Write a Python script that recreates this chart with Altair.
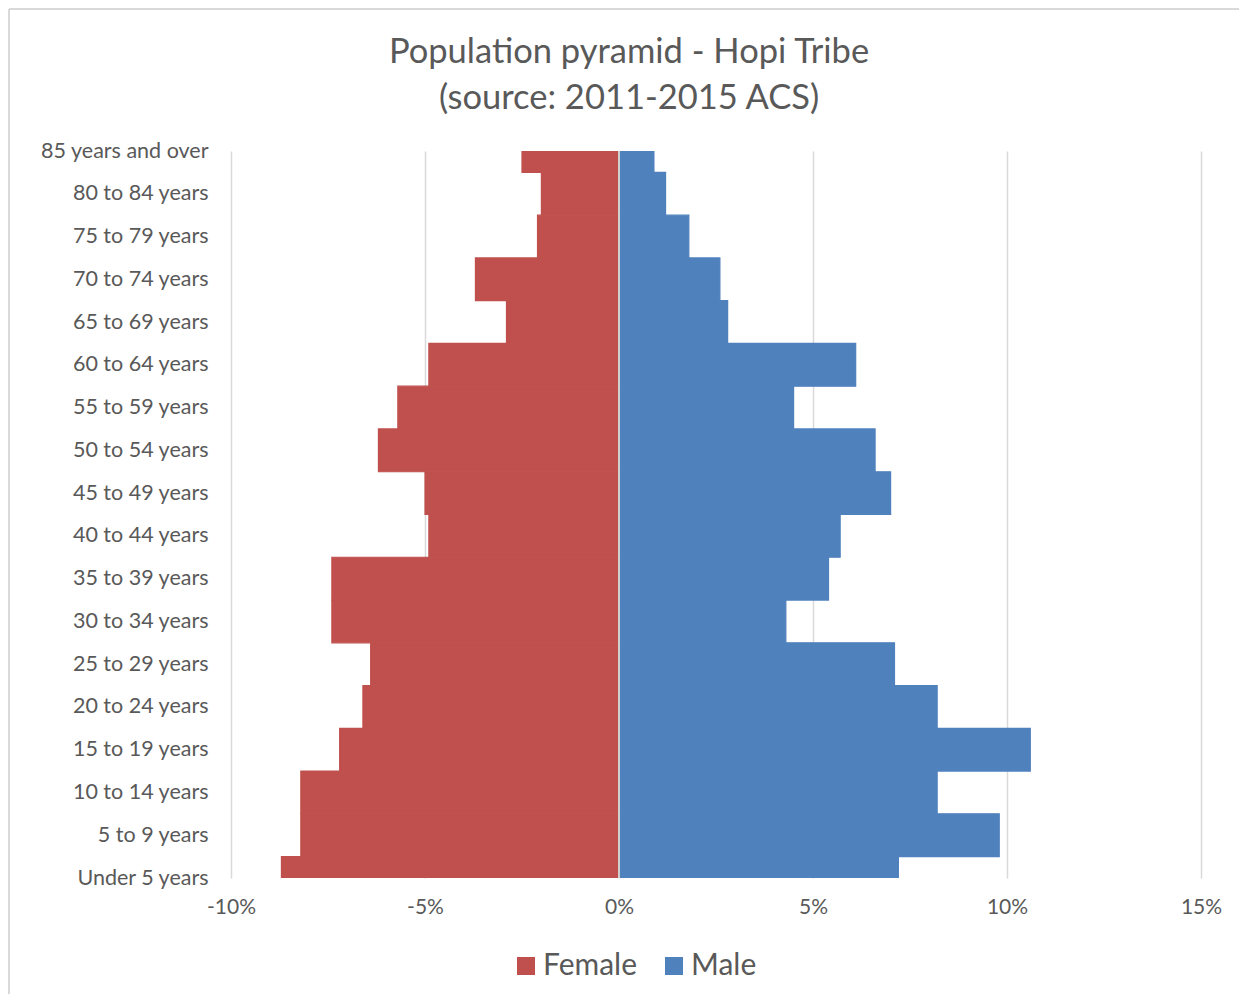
import altair as alt
import pandas as pd

categories = [
    "Under 5 years", "5 to 9 years", "10 to 14 years", "15 to 19 years",
    "20 to 24 years", "25 to 29 years", "30 to 34 years", "35 to 39 years",
    "40 to 44 years", "45 to 49 years", "50 to 54 years", "55 to 59 years",
    "60 to 64 years", "65 to 69 years", "70 to 74 years", "75 to 79 years",
    "80 to 84 years", "85 years and over",
]
female = [-8.7, -8.2, -8.2, -7.2, -6.6, -6.4, -7.4, -7.4, -4.9, -5.0,
          -6.2, -5.7, -4.9, -2.9, -3.7, -2.1, -2.0, -2.5]
male = [7.2, 9.8, 8.2, 10.6, 8.2, 7.1, 4.3, 5.4, 5.7, 7.0,
        6.6, 4.5, 6.1, 2.8, 2.6, 1.8, 1.2, 0.9]
x_ticks = [-0.10, -0.05, 0.0, 0.05, 0.10, 0.15]
title_lines = ["Population pyramid - Hopi Tribe", "(source: 2011-2015 ACS)"]

rows = []
for i, c in enumerate(categories):
    rows.append({"age": c, "idx": i, "lo": i - 0.5, "hi": i + 0.5, "sex": "Female", "value": female[i] / 100})
    rows.append({"age": c, "idx": i, "lo": i - 0.5, "hi": i + 0.5, "sex": "Male", "value": male[i] / 100})
df = pd.DataFrame(rows)

label_expr = "[" + ",".join("'" + c + "'" for c in categories) + "][datum.value]"
FONT = "Lato"
GREY = "#595959"

xscale = alt.Scale(domain=[-0.10, 0.15], nice=False)
yscale = alt.Scale(domain=[0, 17], nice=False, zero=False)
cscale = alt.Scale(domain=["Female", "Male"], range=["#C0504D", "#4F81BD"])

bars = alt.Chart(df).mark_rect(clip=True, strokeWidth=1.2).encode(
    x=alt.X("value:Q", scale=xscale, title=None,
            axis=alt.Axis(values=x_ticks, format=".0%", grid=True, gridColor="#d9d9d9",
                          gridWidth=1.5, domain=False, ticks=False, labelPadding=18,
                          labelFlush=False, labelExpr="replace(datum.label, '−', '-')",
                          labelFontSize=21, labelFont=FONT, labelColor=GREY)),
    x2=alt.datum(0),
    y=alt.Y("lo:Q", scale=yscale, title=None,
            axis=alt.Axis(values=list(range(len(categories))), labelExpr=label_expr,
                          grid=False, domain=False, ticks=False, labelPadding=23,
                          labelFontSize=21.5, labelFont=FONT, labelColor=GREY)),
    y2="hi:Q",
    color=alt.Color("sex:N", scale=cscale,
                    legend=alt.Legend(title=None, orient="none", legendX=280, legendY=800,
                                      direction="horizontal", symbolType="square",
                                      symbolSize=324, symbolStrokeWidth=0,
                                      labelFontSize=30, labelFont=FONT, labelColor=GREY,
                                      columnPadding=21, labelOffset=2)),
    stroke=alt.Stroke("sex:N", scale=cscale, legend=None),
)

zero_rule = alt.Chart(df).mark_rule(color="#d0d0d0", strokeWidth=2).encode(
    x=alt.datum(0)
)

title_df = pd.DataFrame({"line": title_lines, "n": [0, 1]})
title1 = alt.Chart(title_df).transform_filter("datum.n == 0").mark_text(
    font=FONT, fontSize=34.5, color=GREY, align="center", baseline="middle"
).encode(text="line:N", x=alt.value(398), y=alt.value(-98))
title2 = alt.Chart(title_df).transform_filter("datum.n == 1").mark_text(
    font=FONT, fontSize=34.5, color=GREY, align="center", baseline="middle"
).encode(text="line:N", x=alt.value(398), y=alt.value(-52))

border_left = alt.Chart(df).mark_rule(color="#d9d9d9", strokeWidth=2, clip=False).encode(
    x=alt.value(-222), y=alt.value(-142), y2=alt.value(843)
)
border_top = alt.Chart(df).mark_rule(color="#d9d9d9", strokeWidth=2, clip=False).encode(
    x=alt.value(-222), x2=alt.value(1008), y=alt.value(-142)
)

chart = alt.layer(bars, zero_rule, title1, title2, border_left, border_top).properties(
    width=970,
    height=727,
    padding={"left": 223, "top": 143, "right": 38, "bottom": 116},
    autosize=alt.AutoSizeParams(type="none"),
).configure_view(stroke=None)

chart.save("out.html", embed_options={"renderer": "svg", "actions": False})
